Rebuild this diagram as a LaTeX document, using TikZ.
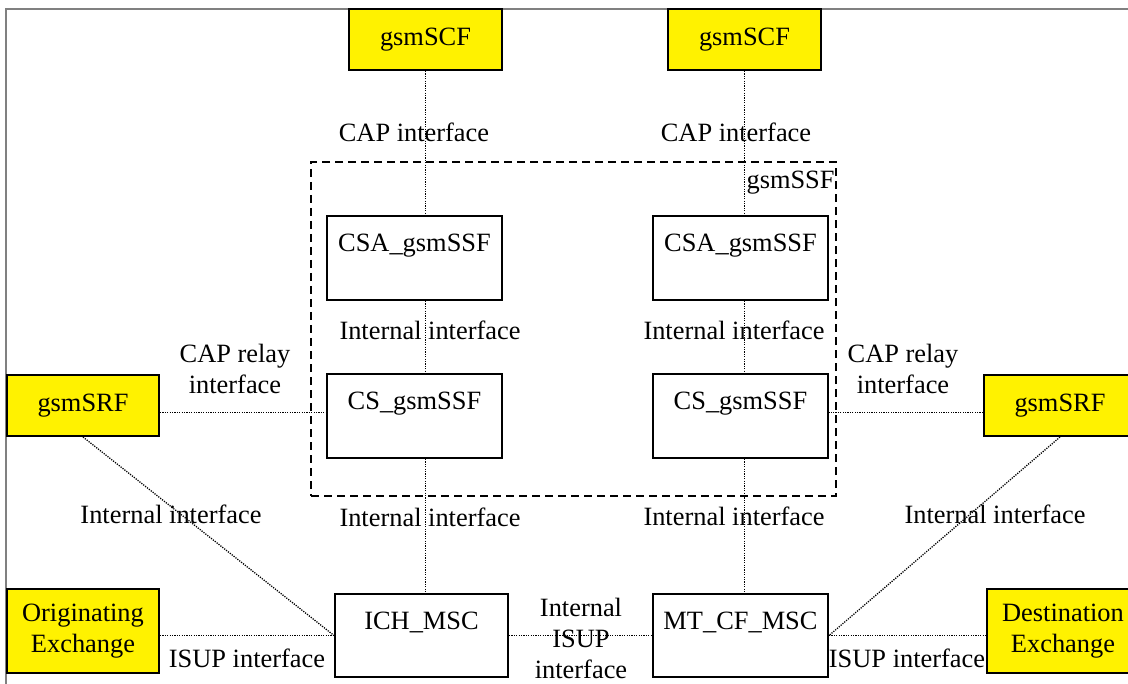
\documentclass[tikz,border=0pt]{standalone}
\usepackage{fontspec}
\setmainfont{Liberation Serif}
\begin{document}
\begin{tikzpicture}[x=0.5pt,y=-0.5pt,
  every node/.style={font=\fontsize{13.2}{15.5}\selectfont},
  ybox/.style={draw=black, line width=1pt, fill=yellow, inner sep=0pt, align=center},
  wbox/.style={draw=black, line width=1pt, fill=white, inner sep=0pt, minimum width=87.5pt, minimum height=42pt},
  conn/.style={line width=0.65pt, dash pattern=on 0.6pt off 0.6pt},
  lbl/.style={inner sep=0pt, anchor=base},
  inlbl/.style={inner sep=0pt, anchor=base, yshift=-18pt},
  mlbl/.style={inner sep=0pt, align=center},
  frameline/.style={draw=gray, line width=0.6pt},
  ssfbox/.style={draw=black, line width=0.8pt, dash pattern=on 4pt off 2.5pt, inner sep=0pt}
]
\useasboundingbox (0,0) rectangle (1128,684);
\clip (0,0) rectangle (1128,684);
\draw[frameline] (6,684) -- (6,9) -- (1128,9);

% gsmSSF dashed area
\node[ssfbox, minimum width=262.5pt, minimum height=167pt] (ssf) at (573.5,329) {};
\node[lbl, anchor=base east] (ssflbl) at (835,189) {gsmSSF};

% boxes
\node[ybox, minimum width=76.5pt, minimum height=30.5pt] (scf1) at (425.5,39.5) {gsmSCF};
\node[ybox, minimum width=76.5pt, minimum height=30.5pt] (scf2) at (744.5,39.5) {gsmSCF};
\node[wbox, label={[inlbl]north:CSA\_gsmSSF}] (csa1) at (414.5,258) {};
\node[wbox, label={[inlbl]north:CSA\_gsmSSF}] (csa2) at (740.5,258) {};
\node[wbox, label={[inlbl]north:CS\_gsmSSF}] (cs1) at (414.5,416) {};
\node[wbox, label={[inlbl]north:CS\_gsmSSF}] (cs2) at (740.5,416) {};
\node[ybox, minimum width=76pt, minimum height=30.5pt] (srf1) at (83,405.5) {gsmSRF};
\node[ybox, minimum width=76pt, minimum height=30.5pt] (srf2) at (1060,405.5) {gsmSRF};
\node[wbox, minimum width=86.5pt, minimum height=41.5pt, label={[inlbl]north:ICH\_MSC}] (ich) at (421.5,635.5) {};
\node[wbox, minimum height=41.5pt, label={[inlbl]north:MT\_CF\_MSC}] (mt) at (740.5,635.5) {};
\node[ybox, minimum width=76pt, minimum height=42pt] (orig) at (83,631) {Originating\\Exchange};
\node[ybox, minimum width=76pt, minimum height=42pt] (dest) at (1063,631) {Destination\\Exchange};

% connectors
\draw[conn] (scf1.south) -- (scf1.south |- csa1.north);
\draw[conn] (scf1.south |- csa1.south) -- (scf1.south |- cs1.north);
\draw[conn] (scf1.south |- cs1.south) -- (scf1.south |- ich.north);
\draw[conn] (scf2.south) -- (scf2.south |- csa2.north);
\draw[conn] (scf2.south |- csa2.south) -- (scf2.south |- cs2.north);
\draw[conn] (scf2.south |- cs2.south) -- (scf2.south |- mt.north);
\draw[conn] ([yshift=-3.5pt]srf1.east) -- ([yshift=-3.5pt]srf1.east -| cs1.west);
\draw[conn] ([yshift=-3.5pt]srf2.west) -- ([yshift=-3.5pt]srf2.west -| cs2.east);
\draw[conn] (srf1.south) -- (ich.west);
\draw[conn] (srf2.south) -- (mt.east);
\draw[conn] (orig.east |- ich.west) -- (ich.west);
\draw[conn] (ich.east) -- (mt.west);
\draw[conn] (mt.east) -- (mt.east -| dest.west);

% labels
\node[lbl] (l1) at (414,142) {CAP interface};
\node[lbl] (l2) at (736,142) {CAP interface};
\node[lbl] (l3) at (430,339) {Internal interface};
\node[lbl] (l4) at (734,339) {Internal interface};
\node[mlbl] (l5) at (235,368.5) {CAP relay\\interface};
\node[mlbl] (l6) at (903,368.5) {CAP relay\\interface};
\node[lbl] (l7) at (171,523) {Internal interface};
\node[lbl] (l8) at (430,526) {Internal interface};
\node[lbl] (l9) at (734,525) {Internal interface};
\node[lbl] (l10) at (995,523) {Internal interface};
\node[lbl] (l11) at (247,667) {ISUP interface};
\node[lbl] (l12) at (907,667) {ISUP interface};
\node[mlbl, font=\fontsize{13.2}{15.5}\selectfont] (l13) at (581,638) {Internal\\ISUP\\interface};
\end{tikzpicture}
\end{document}
